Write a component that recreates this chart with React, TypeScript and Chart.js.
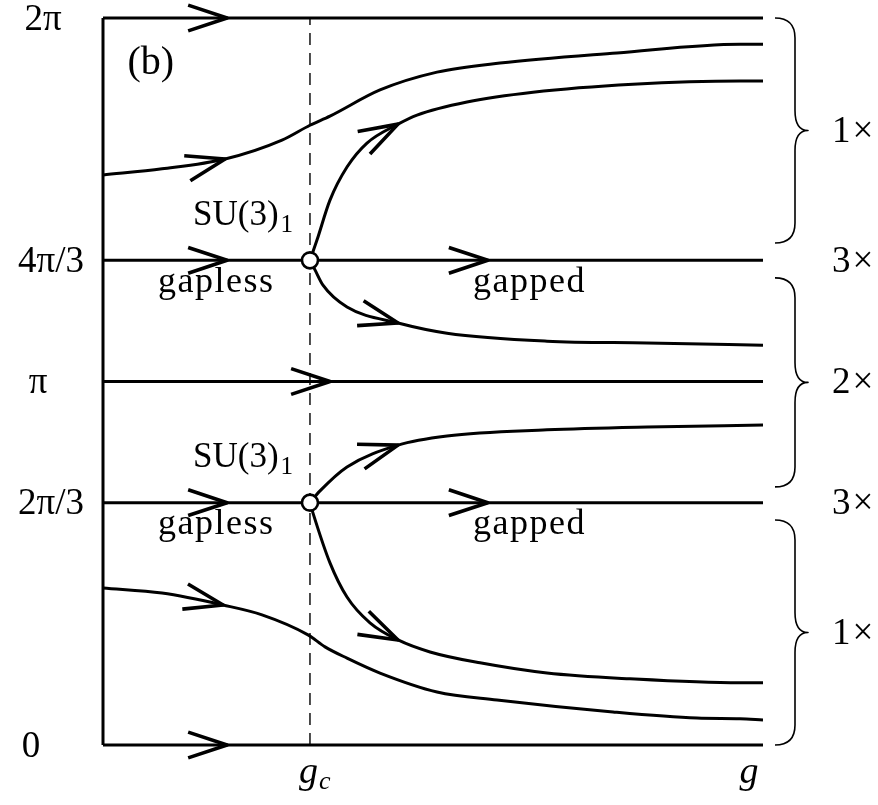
import { useEffect, useRef } from "react";
import { Chart, registerables } from "chart.js";

Chart.register(...registerables);

// x in units of the coupling g (0 … 10), y in units of π (0 … 2)
const G_C = 3.136;
const G_END = 10;

const Y_TICK_VALUES = [2, 4 / 3, 1, 2 / 3, 0];
const Y_TICK_LABELS = ["2π", "4π/3", "π", "2π/3", "0"];

const LEVELS = [2, 4 / 3, 1, 2 / 3, 0];
const LEVEL_ARROWS = [[1.88], [1.88, 5.83], [3.44], [1.88, 5.83], [1.88]];

const FLOW_A_X = [0, 0.894, 1.85, 2.712, 3.136, 3.439, 4.197, 5.061, 6.015, 7.788, 9.652, 10];
const FLOW_A_Y = [1.568, 1.585, 1.612, 1.664, 1.705, 1.73, 1.802, 1.851, 1.876, 1.904, 1.928, 1.928];
const FLOW_A_ARROW = 2;

const FLOW_B_X = [3.136, 3.242, 3.439, 3.697, 4.0, 4.47, 4.758, 5.515, 6.515, 8.03, 9.652, 10];
const FLOW_B_Y = [1.3333, 1.389, 1.499, 1.59, 1.656, 1.708, 1.733, 1.769, 1.796, 1.818, 1.827, 1.827];
const FLOW_B_ARROW = 5;

const FLOW_C_X = [3.136, 3.212, 3.333, 3.697, 4.47, 5.212, 6.727, 8.242, 10];
const FLOW_C_Y = [1.3333, 1.307, 1.265, 1.205, 1.161, 1.133, 1.111, 1.106, 1.1];
const FLOW_C_ARROW = 4;

const FLOW_D_X = [3.136, 3.288, 3.697, 4.47, 5.212, 6.727, 8.242, 10];
const FLOW_D_Y = [0.6667, 0.699, 0.765, 0.825, 0.85, 0.867, 0.875, 0.88];
const FLOW_D_ARROW = 3;

const FLOW_E_X = [3.136, 3.182, 3.439, 3.697, 4.045, 4.47, 4.955, 5.712, 6.727, 7.985, 9.652, 10];
const FLOW_E_Y = [0.6667, 0.638, 0.501, 0.407, 0.336, 0.289, 0.256, 0.226, 0.198, 0.182, 0.171, 0.171];
const FLOW_E_ARROW = 5;

const FLOW_F_X = [0, 0.894, 1.82, 2.409, 3.106, 3.364, 3.697, 4.197, 5.061, 5.97, 7.727, 9.0, 9.652, 10];
const FLOW_F_Y = [0.432, 0.418, 0.385, 0.358, 0.303, 0.27, 0.239, 0.198, 0.146, 0.124, 0.091, 0.074, 0.072, 0.069];
const FLOW_F_ARROW = 2;

const FIXED_POINT_X = [G_C, G_C];
const FIXED_POINT_Y = [4 / 3, 2 / 3];

const MULTIPLICITY = ["1×", "3×", "2×", "3×", "1×"];
const MULTIPLICITY_AT = [1.69, 4 / 3, 1, 2 / 3, 0.31];
const BRACE_FROM = [2, 1.285, 0.619];
const BRACE_TO = [1.381, 0.71, 0];

const FONT = "'Liberation Serif', 'DejaVu Serif', serif";

const zip = (xs: number[], ys: number[]) => xs.map((x, i) => ({ x, y: ys[i] }));

function levelPoints(level: number, arrows: number[]) {
  const xs = [0, ...arrows, G_END];
  return xs.map((x) => ({ x, y: level }));
}

const decorPlugin = {
  id: "flowDecor",
  afterDatasetsDraw(chart: any) {
    const ctx = chart.ctx as CanvasRenderingContext2D;
    const xs = chart.scales.x;
    const ys = chart.scales.y;
    const { left, right, bottom } = chart.chartArea;
    ctx.save();
    ctx.strokeStyle = "#000";
    ctx.fillStyle = "#000";

    // arrow heads
    chart.data.datasets.forEach((ds: any, i: number) => {
      const idxs: number[] | undefined = ds.arrowAt;
      if (!idxs) return;
      const meta = chart.getDatasetMeta(i);
      idxs.forEach((k) => {
        const p = meta.data[k];
        const q = meta.data[k - 1];
        let dx = p.x - q.x;
        let dy = p.y - q.y;
        if (p.cp1x !== undefined && Math.hypot(p.x - p.cp1x, p.y - p.cp1y) > 0.5) {
          dx = p.x - p.cp1x;
          dy = p.y - p.cp1y;
        }
        const ang = Math.atan2(dy, dx);
        const L = 41;
        const half = 0.32;
        ctx.beginPath();
        ctx.moveTo(p.x - L * Math.cos(ang - half), p.y - L * Math.sin(ang - half));
        ctx.lineTo(p.x, p.y);
        ctx.lineTo(p.x - L * Math.cos(ang + half), p.y - L * Math.sin(ang + half));
        ctx.lineWidth = 3.6;
        ctx.lineJoin = "round";
        ctx.lineCap = "butt";
        ctx.stroke();
      });
    });

    // y tick labels (left)
    const tickOffsets = [-60, -52, -65, -52, -72];
    ctx.font = `37px ${FONT}`;
    ctx.textAlign = "center";
    ctx.textBaseline = "middle";
    Y_TICK_VALUES.forEach((v, i) => {
      ctx.fillText(Y_TICK_LABELS[i], left + tickOffsets[i], ys.getPixelForValue(v) + 2);
    });

    // x labels
    ctx.textAlign = "left";
    ctx.textBaseline = "alphabetic";
    const gcPx = xs.getPixelForValue(G_C);
    ctx.font = `italic 38px ${FONT}`;
    ctx.fillText("g", gcPx - 11, bottom + 38);
    const gw = ctx.measureText("g").width;
    ctx.font = `italic 26px ${FONT}`;
    ctx.fillText("c", gcPx - 11 + gw + 1, bottom + 44);
    ctx.font = `italic 38px ${FONT}`;
    ctx.textAlign = "center";
    ctx.fillText("g", right - 14, bottom + 38);

    // annotations inside the plot
    ctx.textAlign = "left";
    ctx.font = `40px ${FONT}`;
    ctx.fillText("(b)", xs.getPixelForValue(0.37), ys.getPixelForValue(1.845));
    const su = (x: number, y: number) => {
      const px = xs.getPixelForValue(x);
      const py = ys.getPixelForValue(y);
      ctx.font = `35px ${FONT}`;
      ctx.fillText("SU(3)", px, py);
      const w = ctx.measureText("SU(3)").width;
      ctx.font = `25px ${FONT}`;
      ctx.fillText("1", px + w + 2, py + 7);
    };
    su(1.364, 1.4305);
    su(1.364, 0.765);
    ctx.font = `36px ${FONT}`;
    (ctx as any).letterSpacing = "1.5px";
    ctx.fillText("gapless", xs.getPixelForValue(0.833), ys.getPixelForValue(1.245));
    ctx.fillText("gapped", xs.getPixelForValue(5.606), ys.getPixelForValue(1.245));
    ctx.fillText("gapless", xs.getPixelForValue(0.833), ys.getPixelForValue(0.58));
    ctx.fillText("gapped", xs.getPixelForValue(5.606), ys.getPixelForValue(0.58));
    (ctx as any).letterSpacing = "0px";

    // braces
    const x0 = right + 12;
    const xsp = right + 32;
    const xt = right + 45;
    const r = 20;
    ctx.lineWidth = 1.6;
    BRACE_FROM.forEach((from, i) => {
      const yTop = ys.getPixelForValue(from);
      const yBot = ys.getPixelForValue(BRACE_TO[i]);
      const yMid = (yTop + yBot) / 2;
      ctx.beginPath();
      ctx.moveTo(x0, yTop);
      ctx.quadraticCurveTo(xsp, yTop, xsp, yTop + r);
      ctx.lineTo(xsp, yMid - r);
      ctx.quadraticCurveTo(xsp, yMid, xt, yMid);
      ctx.quadraticCurveTo(xsp, yMid, xsp, yMid + r);
      ctx.lineTo(xsp, yBot - r);
      ctx.quadraticCurveTo(xsp, yBot, x0, yBot);
      ctx.stroke();
    });

    // multiplicities
    ctx.font = `37px ${FONT}`;
    (ctx as any).letterSpacing = "2px";
    ctx.textAlign = "left";
    ctx.textBaseline = "middle";
    MULTIPLICITY.forEach((t, i) => {
      ctx.fillText(t, right + 69, ys.getPixelForValue(MULTIPLICITY_AT[i]) + 2);
    });
    (ctx as any).letterSpacing = "0px";

    ctx.restore();
  },
};

export default function App() {
  const ref = useRef<HTMLCanvasElement | null>(null);

  useEffect(() => {
    if (!ref.current) return;
    const line = (data: any[], extra: any = {}) => ({
      data,
      borderColor: "#000",
      borderWidth: 3,
      pointRadius: 0,
      fill: false,
      clip: false,
      tension: 0,
      ...extra,
    });
    const flow = (xs: number[], ys: number[], arrow: number) =>
      line(zip(xs, ys), { tension: 0.4, cubicInterpolationMode: "monotone", arrowAt: [arrow] });

    const datasets: any[] = [
      {
        data: zip(FIXED_POINT_X, FIXED_POINT_Y),
        showLine: false,
        pointRadius: 8,
        pointBackgroundColor: "#fff",
        pointBorderColor: "#000",
        pointBorderWidth: 2.6,
        clip: false,
      },
      ...LEVELS.map((lv, i) =>
        line(levelPoints(lv, LEVEL_ARROWS[i]), {
          arrowAt: LEVEL_ARROWS[i].map((_, k) => k + 1),
        })
      ),
      flow(FLOW_A_X, FLOW_A_Y, FLOW_A_ARROW),
      flow(FLOW_B_X, FLOW_B_Y, FLOW_B_ARROW),
      flow(FLOW_C_X, FLOW_C_Y, FLOW_C_ARROW),
      flow(FLOW_D_X, FLOW_D_Y, FLOW_D_ARROW),
      flow(FLOW_E_X, FLOW_E_Y, FLOW_E_ARROW),
      flow(FLOW_F_X, FLOW_F_Y, FLOW_F_ARROW),
      line([{ x: 0, y: 0 }, { x: 0, y: 2 }]),
      line([{ x: G_C, y: 0 }, { x: G_C, y: 2 }], { borderWidth: 1.4, borderDash: [12, 8] }),
    ];

    const chart = new Chart(ref.current, {
      type: "line",
      data: { datasets },
      options: {
        responsive: false,
        animation: false,
        events: [],
        layout: { padding: { left: 103, right: 115, top: 18, bottom: 60 } },
        plugins: { legend: { display: false }, tooltip: { enabled: false } },
        scales: {
          x: { type: "linear", min: 0, max: G_END, display: false },
          y: { type: "linear", min: 0, max: 2, display: false },
        },
      },
      plugins: [decorPlugin],
    } as any);
    return () => chart.destroy();
  }, []);

  return (
    <div style={{ position: "absolute", left: 0, top: 0, width: 878, height: 805, background: "#fff" }}>
      <canvas ref={ref} width={878} height={805} />
    </div>
  );
}
